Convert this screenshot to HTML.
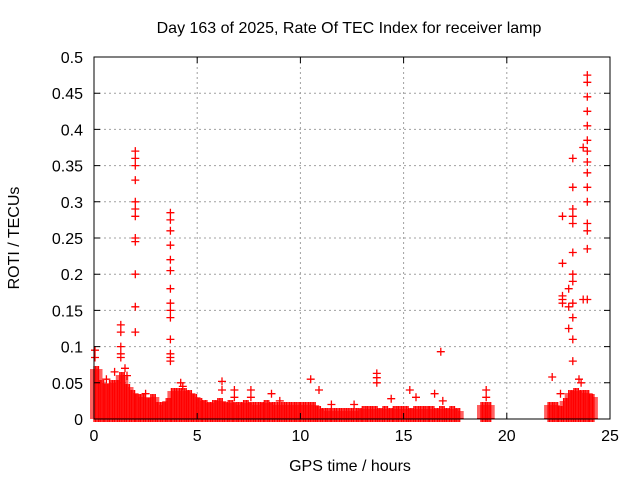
<!DOCTYPE html>
<html><head><meta charset="utf-8"><style>
body{margin:0;background:#fff}
svg{font-family:"Liberation Sans",sans-serif}
</style></head><body>
<svg id="chart" width="640" height="480" viewBox="0 0 640 480">
<text x="349" y="33" font-size="16" text-anchor="middle" fill="#000">Day 163 of 2025, Rate Of TEC Index for receiver lamp</text>
<text x="350" y="471" font-size="16" text-anchor="middle" fill="#000">GPS time / hours</text>
<text transform="translate(19,238) rotate(-90)" font-size="16" text-anchor="middle" fill="#000">ROTI / TECUs</text>
<g id="grid"></g><g id="marks"></g><g id="axes"></g>
</svg>
<script>
const xTicks=[0,5,10,15,20,25];
const yTicks=[0,0.05,0.1,0.15,0.2,0.25,0.3,0.35,0.4,0.45,0.5];
const yTickLabels=["0","0.05","0.1","0.15","0.2","0.25","0.3","0.35","0.4","0.45","0.5"];
// dense background envelope: max ROTI per 0.25 h bin, starting at 0 h
const binStart=0, binWidth=0.25;
const densePeak=[0.07,0.05,0.045,0.05,0.05,0.06,0.045,0.035,0.03,0.03,0.025,0.03,0.02,0.02,0.025,0.04,0.04,0.04,0.035,0.03,
0.025,0.022,0.02,0.022,0.025,0.02,0.022,0.02,0.02,0.022,0.02,0.018,0.02,0.022,0.02,0.018,0.02,0.02,0.018,0.02,
0.02,0.018,0.02,0.015,0.01,0.012,0.01,0.012,0.01,0.012,0.012,0.01,0.015,0.015,0.015,0.012,0.015,0.012,0.015,0.015,
0.015,0.012,0.015,0.015,0.015,0.015,0.012,0.015,0.012,0.015,0.012,0,0,0,0,0.02,0.02,0,0,0,
0,0,0,0,0,0,0,0,0.02,0.02,0.015,0.025,0.035,0.04,0.035,0.035,0.03,0,0,0];
const outT=[0.05,0.05,1.3,1.3,1.3,1.3,1.3,
2,2,2,2,2,2,2,2,2,2,2,2,
3.7,3.7,3.7,3.7,3.7,3.7,3.7,3.7,3.7,3.7,3.7,3.7,3.7,3.7,
10.5,10.9,13.7,13.7,13.7,15.3,15.6,16.5,16.8,19,22.2,
22.7,22.7,22.7,22.7,22.7,23,23,23,
23.2,23.2,23.2,23.2,23.2,23.2,23.2,23.2,23.2,23.2,23.2,23.2,
23.7,23.7,
23.9,23.9,23.9,23.9,23.9,23.9,23.9,23.9,23.9,23.9,23.9,23.9,23.9,23.9,23.9,
0.6,1.0,1.5,1.6,2.5,4.2,4.3,6.2,6.2,6.8,6.8,7.6,7.6,8.6,9.0,11.5,12.6,14.4,16.9,19.0,22.6,23.5,23.6];
const outV=[0.095,0.085,0.13,0.12,0.1,0.09,0.085,
0.37,0.36,0.35,0.33,0.3,0.29,0.28,0.25,0.245,0.2,0.155,0.12,
0.285,0.275,0.26,0.24,0.22,0.205,0.18,0.16,0.15,0.14,0.11,0.09,0.085,0.08,
0.055,0.04,0.063,0.057,0.05,0.04,0.03,0.035,0.093,0.04,0.058,
0.28,0.215,0.17,0.165,0.16,0.18,0.155,0.125,
0.36,0.32,0.29,0.28,0.27,0.23,0.2,0.19,0.16,0.14,0.11,0.08,
0.375,0.165,
0.475,0.465,0.445,0.425,0.405,0.385,0.37,0.355,0.34,0.32,0.3,0.27,0.26,0.235,0.165,
0.055,0.065,0.07,0.06,0.035,0.05,0.045,0.052,0.04,0.04,0.03,0.04,0.03,0.035,0.025,0.02,0.02,0.028,0.025,0.03,0.035,0.055,0.05];
const L=94,R=610,T=57,B=419;
const X=v=>L+(v-0)/25*(R-L), Y=v=>B-v/0.5*(B-T);
const ns="http://www.w3.org/2000/svg";
function mk(tag,parent){const e=document.createElementNS(ns,tag);parent.appendChild(e);return e;}
const grid=document.getElementById('grid'),axes=document.getElementById('axes'),marks=document.getElementById('marks');
xTicks.forEach(t=>{const x=X(t);
 if(t>0&&t<25){const g=mk('line',grid);g.setAttribute('x1',x);g.setAttribute('x2',x);g.setAttribute('y1',T);g.setAttribute('y2',B);g.setAttribute('stroke','#a0a0a0');g.setAttribute('stroke-dasharray','2,3');
 
 }
 const tk=mk('path',axes);tk.setAttribute('d',`M${x},${B}v-6M${x},${T}v6`);tk.setAttribute('stroke','#000');
 
 
 const lb=mk('text',axes);lb.setAttribute('x',x);lb.setAttribute('y',B+22);lb.setAttribute('font-size','16');lb.setAttribute('text-anchor','middle');lb.textContent=t;
 
 
});
yTicks.forEach((t,i)=>{const y=Y(t);
 if(t>0&&t<0.5){const g=mk('line',grid);g.setAttribute('x1',L);g.setAttribute('x2',R);g.setAttribute('y1',y);g.setAttribute('y2',y);g.setAttribute('stroke','#a0a0a0');g.setAttribute('stroke-dasharray','2,3');
 
 }
 const tk=mk('path',axes);tk.setAttribute('d',`M${L},${y}h6M${R},${y}h-6`);tk.setAttribute('stroke','#000');
 
 
 const lb=mk('text',axes);lb.setAttribute('x',L-11);lb.setAttribute('y',y+6);lb.setAttribute('font-size','16');lb.setAttribute('text-anchor','end');lb.textContent=yTickLabels[i];
 
 
});
const frame=mk('rect',axes);frame.setAttribute('x',L);frame.setAttribute('y',T);frame.setAttribute('width',R-L);frame.setAttribute('height',B-T);frame.setAttribute('fill','none');frame.setAttribute('stroke','#000');


let d='';
const cross=(x,y)=>`M${(x-4).toFixed(1)},${y.toFixed(1)}h8M${x.toFixed(1)},${(y-4).toFixed(1)}v8`;
densePeak.forEach((p,i)=>{ if(p<=0)return;
 const x0=X(binStart+i*binWidth),x1=X(binStart+(i+1)*binWidth),yTop=Y(p);
 for(let x=x0;x<x1;x+=1.5){for(let y=B-1;y>=yTop;y-=2){d+=cross(x,y);}}
});
outT.forEach((t,i)=>{d+=cross(X(t),Y(outV[i]));});
const pth=mk('path',marks);pth.setAttribute('d',d);pth.setAttribute('stroke','#ff0000');pth.setAttribute('stroke-width','1.3');pth.setAttribute('fill','none');


</script>
</body></html>
